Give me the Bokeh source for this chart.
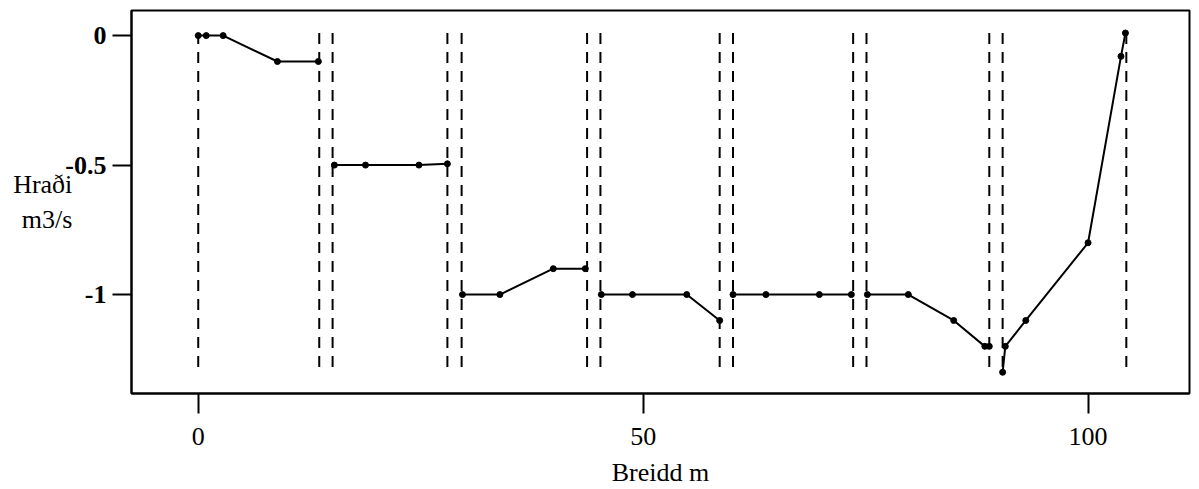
from bokeh.plotting import figure
from bokeh.models import FixedTicker
from bokeh.embed import file_html
from bokeh.resources import INLINE

# Measurement verticals (Breidd m)
verticals = [0, 13.6, 15.1, 28.0, 29.6, 43.7, 45.2, 58.6, 60.1, 73.6, 75.1, 88.9, 90.4, 104.3]
vert_top = 0.01
vert_bottom = -1.29

# Velocity profile segments (x: Breidd m, y: Hraði m3/s)
seg1_x = [0, 0.9, 2.8, 8.9, 13.5]
seg1_y = [0, 0, 0, -0.1, -0.1]
seg2_x = [15.3, 18.8, 24.8, 28.0]
seg2_y = [-0.5, -0.5, -0.5, -0.495]
seg3_x = [29.7, 33.9, 39.9, 43.5]
seg3_y = [-1.0, -1.0, -0.9, -0.9]
seg4_x = [45.3, 48.8, 54.9, 58.6]
seg4_y = [-1.0, -1.0, -1.0, -1.1]
seg5_x = [60.1, 63.8, 69.8, 73.4]
seg5_y = [-1.0, -1.0, -1.0, -1.0]
seg6_x = [75.2, 79.8, 84.9, 88.4, 88.9]
seg6_y = [-1.0, -1.0, -1.1, -1.2, -1.2]
seg7_x = [90.4, 90.7, 93.0, 100.0, 103.7, 104.2]
seg7_y = [-1.3, -1.2, -1.1, -0.8, -0.08, 0.01]

segments = [(seg1_x, seg1_y), (seg2_x, seg2_y), (seg3_x, seg3_y), (seg4_x, seg4_y),
            (seg5_x, seg5_y), (seg6_x, seg6_y), (seg7_x, seg7_y)]

x_ticks = [0, 50, 100]
y_ticks = [0, -0.5, -1]
y_tick_labels = {0: "0", -0.5: "-0.5", -1: "-1"}

FONT = "Liberation Serif"

p = figure(width=1191, height=489, x_range=(-7.5, 111.4), y_range=(-1.382, 0.097),
           output_backend="svg", toolbar_location=None,
           min_border_left=131, min_border_right=2, min_border_top=10, min_border_bottom=96)

p.xgrid.visible = False
p.ygrid.visible = False
p.background_fill_color = "white"
p.border_fill_color = "white"
p.outline_line_color = "black"
p.outline_line_width = 2

# dashed verticals
p.segment(x0=verticals, x1=verticals, y0=[vert_top] * len(verticals), y1=[vert_bottom] * len(verticals),
          line_color="black", line_width=2, line_dash="11 8")

for sx, sy in segments:
    p.line(sx, sy, line_color="black", line_width=2)
    p.scatter(sx, sy, size=6, color="black")

# axes
p.xaxis.ticker = FixedTicker(ticks=x_ticks)
p.yaxis.ticker = FixedTicker(ticks=y_ticks)
p.yaxis.major_label_overrides = y_tick_labels
for ax in (p.xaxis, p.yaxis):
    ax.axis_line_color = "black"
    ax.axis_line_width = 2
    ax.major_tick_line_color = "black"
    ax.major_tick_line_width = 2
    ax.minor_tick_line_color = None
    ax.major_tick_in = 0
    ax.major_label_text_font = FONT
    ax.major_label_text_font_size = "26px"
    ax.major_label_text_color = "black"
p.xaxis.major_tick_out = 20
p.yaxis.major_tick_out = 19
p.xaxis.major_label_standoff = 14
p.yaxis.major_label_standoff = 6
p.yaxis.major_label_text_font_style = "bold"

p.xaxis.axis_label = "Breidd m"
p.xaxis.axis_label_text_font = FONT
p.xaxis.axis_label_text_font_size = "26px"
p.xaxis.axis_label_text_font_style = "normal"
p.xaxis.axis_label_text_color = "black"
p.xaxis.axis_label_standoff = 10

# horizontal y-axis label
p.yaxis.axis_label = "Hraði\nm3/s"
p.yaxis.axis_label_text_font = FONT
p.yaxis.axis_label_text_font_size = "26px"
p.yaxis.axis_label_text_font_style = "normal"
p.yaxis.axis_label_text_color = "black"
p.yaxis.axis_label_standoff = -10
p.yaxis.axis_label_orientation = "horizontal"

open("out.html", "w").write(file_html(p, INLINE))
